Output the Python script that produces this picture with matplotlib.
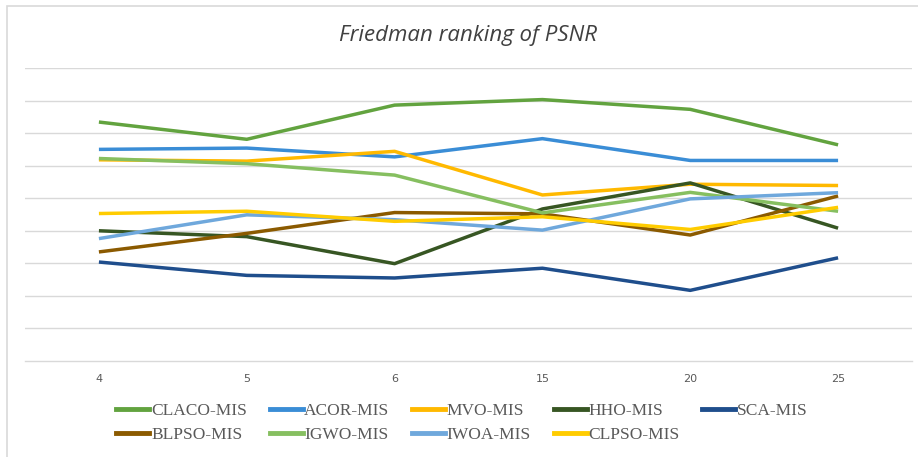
import matplotlib
matplotlib.use("Agg")
import matplotlib.pyplot as plt
from matplotlib.patches import Rectangle
from matplotlib.lines import Line2D

categories = ["4", "5", "6", "15", "20", "25"]

claco = [7.34, 6.81, 7.86, 8.03, 7.73, 6.64]
acor = [6.50, 6.54, 6.27, 6.83, 6.16, 6.16]
mvo = [6.18, 6.14, 6.44, 5.10, 5.43, 5.39]
hho = [4.00, 3.82, 2.99, 4.67, 5.47, 4.08]
sca = [3.04, 2.63, 2.55, 2.85, 2.17, 3.17]
blpso = [3.35, 3.92, 4.56, 4.52, 3.87, 5.07]
igwo = [6.22, 6.06, 5.71, 4.55, 5.18, 4.60]
iwoa = [3.76, 4.49, 4.34, 4.02, 4.98, 5.17]
clpso = [4.53, 4.60, 4.29, 4.43, 4.04, 4.72]

names = ["CLACO-MIS", "ACOR-MIS", "MVO-MIS", "HHO-MIS", "SCA-MIS",
         "BLPSO-MIS", "IGWO-MIS", "IWOA-MIS", "CLPSO-MIS"]
series = [claco, acor, mvo, hho, sca, blpso, igwo, iwoa, clpso]
colors = ["#62A33F", "#3A8DD6", "#FFB900", "#375623", "#1F4E8C",
          "#8B5A00", "#86BF60", "#6FA8DC", "#FFCC00"]

fig = plt.figure(figsize=(9.18, 4.57), dpi=100)
W, H = 918, 457

# chart frame
fig.patches.append(Rectangle((7 / W, -0.05), 1.0, 1 - 6 / H + 0.05,
                             transform=fig.transFigure, fill=False,
                             edgecolor="#D9D9D9", linewidth=1.2))

ax = fig.add_axes([25 / W, 1 - 361 / H, (912 - 25) / W, (361 - 68) / H])
x = list(range(len(categories)))
for s, c in zip(series, colors):
    ax.plot(x, s, color=c, linewidth=2.5, solid_capstyle="butt")

ax.set_xlim(-0.5, len(categories) - 0.5)
ax.set_ylim(0, 9)
ax.set_yticks(range(1, 10))
ax.yaxis.grid(True, color="#D9D9D9", linewidth=1.0)
ax.set_axisbelow(True)
ax.tick_params(axis="y", left=False, labelleft=False)
ax.tick_params(axis="x", bottom=False, pad=6, labelsize=8, labelcolor="#595959")
ax.set_xticks(x)
ax.set_xticklabels(categories)
for sp in ["left", "right", "top"]:
    ax.spines[sp].set_visible(False)
ax.spines["bottom"].set_color("#D9D9D9")
ax.spines["bottom"].set_linewidth(1.0)

fig.text(468 / W, 1 - 36 / H, "Friedman ranking of PSNR", ha="center", va="center",
         fontsize=16, style="italic", family="Open Sans", color="#404040")

# row-major order for the two-row legend
order = [0, 5, 1, 6, 2, 7, 3, 8, 4]
handles = [Line2D([], [], color=colors[i], linewidth=3.5) for i in order]
labels = [names[i] for i in order]
leg = fig.legend(handles, labels, loc="center", bbox_to_anchor=(462 / W, 1 - 423 / H),
                 ncol=5, frameon=False, handlelength=1.9, handletextpad=0.1,
                 columnspacing=1.3, labelspacing=0.45,
                 prop={"family": "Liberation Serif", "size": 12.5})
for t in leg.get_texts():
    t.set_color("#595959")

fig.savefig("out.png", dpi=100)
